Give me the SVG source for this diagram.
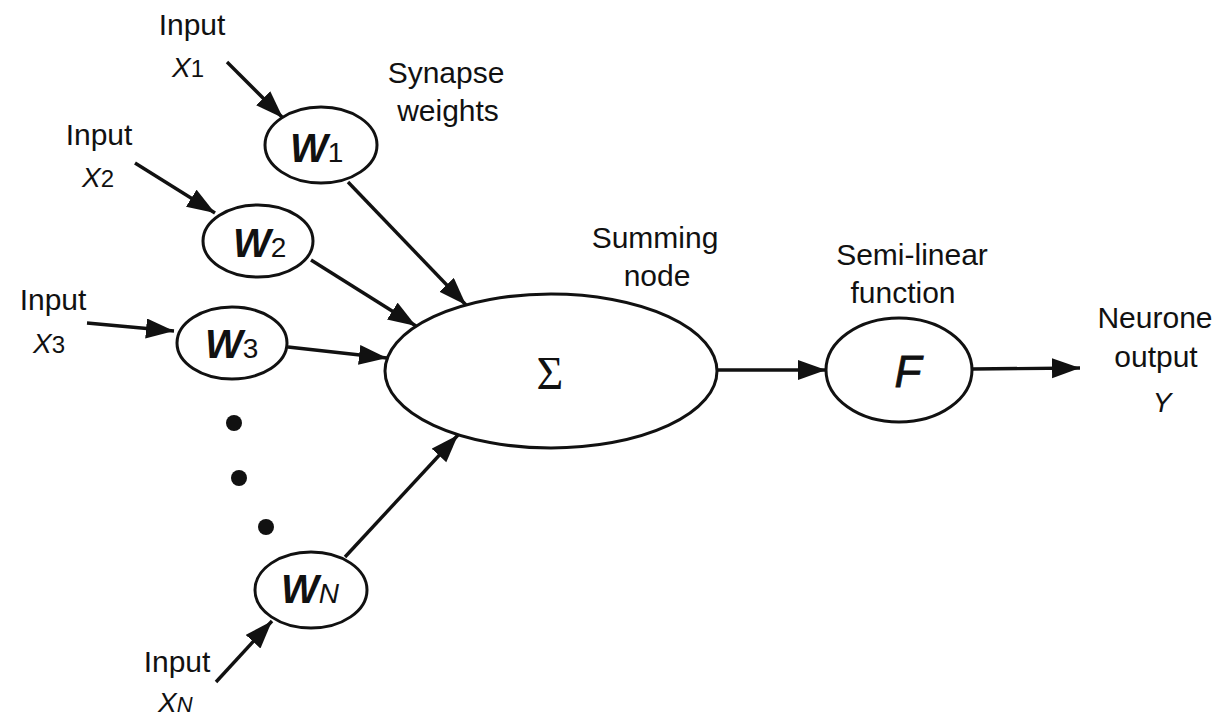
<svg xmlns="http://www.w3.org/2000/svg" width="1224" height="717" viewBox="0 0 1224 717">
<style>
.n{fill:#fff;stroke:#111;stroke-width:3}
.c line{stroke:#111;stroke-width:3.4;marker-end:url(#ah)}
.t{font-family:"Liberation Sans",Arial,sans-serif;font-size:30px;fill:#111}
.v{font-family:"Liberation Sans",Arial,sans-serif;font-style:italic;fill:#111}
.w{font-family:"Liberation Sans",Arial,sans-serif;font-style:italic;font-weight:bold;font-size:40px;fill:#111}
.s{font-family:"Liberation Sans",Arial,sans-serif;font-size:28px;fill:#111}
</style>
<defs>
<marker id="ah" markerUnits="userSpaceOnUse" markerWidth="30" markerHeight="22" refX="28" refY="10" orient="auto">
<path d="M0,0 L28,10 L0,20 z" fill="#111"/>
</marker>
</defs>
<rect width="1224" height="717" fill="#fff"/>
<g id="connectors" class="c">
<line x1="227" y1="62" x2="283" y2="118"/>
<line x1="135" y1="163" x2="215" y2="213"/>
<line x1="87" y1="323" x2="174" y2="331"/>
<line x1="216" y1="682" x2="272" y2="621"/>
<line x1="348" y1="182" x2="466" y2="305"/>
<line x1="311" y1="260" x2="416" y2="326"/>
<line x1="288" y1="347" x2="387" y2="358"/>
<line x1="345" y1="557" x2="458" y2="435"/>
<line x1="717" y1="370" x2="826" y2="370"/>
<line x1="972" y1="369" x2="1080" y2="368"/>
</g>
<g id="w1"><ellipse class="n" cx="321" cy="145" rx="56" ry="38"/><text class="w" x="290" y="162">W<tspan class="s" font-style="normal" font-weight="normal">1</tspan></text></g>
<g id="w2"><ellipse class="n" cx="258" cy="241" rx="55" ry="36"/><text class="w" x="233" y="257">W<tspan class="s" font-style="normal" font-weight="normal">2</tspan></text></g>
<g id="w3"><ellipse class="n" cx="232" cy="343" rx="55" ry="36"/><text class="w" x="205" y="358">W<tspan class="s" font-style="normal" font-weight="normal">3</tspan></text></g>
<g id="wn"><ellipse class="n" cx="311" cy="590" rx="56" ry="38"/><text class="w" x="281" y="603">W<tspan font-size="28" font-weight="normal">N</tspan></text></g>
<g id="sum"><ellipse class="n" cx="551" cy="371" rx="166" ry="77"/><text x="550" y="389" font-family="'Liberation Serif','Times New Roman',serif" font-size="46" fill="#111" text-anchor="middle">Σ</text></g>
<g id="f"><ellipse class="n" cx="899" cy="370" rx="73" ry="52"/><text x="908" y="387" font-family="'Liberation Sans',Arial,sans-serif" font-style="italic" font-size="44" fill="#111" stroke="#111" stroke-width="0.8" text-anchor="middle">F</text></g>
<g id="dots" fill="#111">
<circle cx="234" cy="423" r="8"/>
<circle cx="239" cy="478" r="8"/>
<circle cx="266" cy="527" r="8"/>
</g>
<g id="labels">
<text class="t" x="192" y="35" text-anchor="middle">Input</text>
<text class="v" x="172" y="77" font-size="28">X<tspan font-style="normal" font-size="24">1</tspan></text>
<text class="t" x="99" y="145" text-anchor="middle">Input</text>
<text class="v" x="82" y="187" font-size="28">X<tspan font-style="normal" font-size="24">2</tspan></text>
<text class="t" x="53" y="310" text-anchor="middle">Input</text>
<text class="v" x="33" y="353" font-size="28">X<tspan font-style="normal" font-size="24">3</tspan></text>
<text class="t" x="177" y="672" text-anchor="middle">Input</text>
<text class="v" x="158" y="712" font-size="28">X<tspan font-size="22">N</tspan></text>
<text class="t" x="446" y="83" text-anchor="middle">Synapse</text>
<text class="t" x="448" y="121" text-anchor="middle">weights</text>
<text class="t" x="655" y="248" text-anchor="middle">Summing</text>
<text class="t" x="657" y="286" text-anchor="middle">node</text>
<text class="t" x="912" y="265" text-anchor="middle">Semi-linear</text>
<text class="t" x="903" y="303" text-anchor="middle">function</text>
<text class="t" x="1155" y="328" text-anchor="middle">Neurone</text>
<text class="t" x="1156" y="367" text-anchor="middle">output</text>
<text class="v" x="1162" y="412" font-size="28" text-anchor="middle">Y</text>
</g>
</svg>
